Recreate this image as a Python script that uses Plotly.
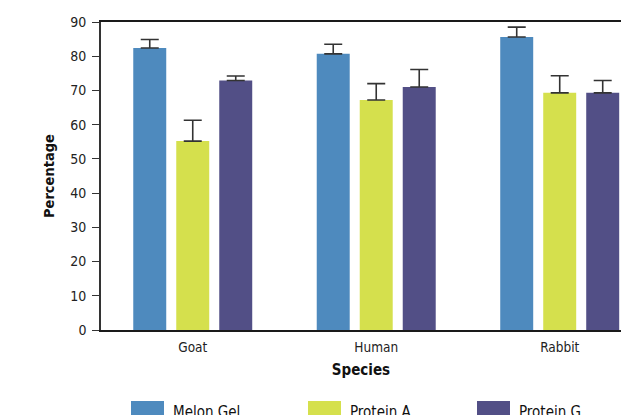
import plotly.graph_objects as go

species = ["Goat", "Human", "Rabbit"]
series_names = ["Melon Gel", "Protein A", "Protein G"]
melon_gel = [82.4, 80.7, 85.6]
protein_a = [55.2, 67.2, 69.3]
protein_g = [72.9, 71.0, 69.3]
melon_gel_err = [2.5, 2.8, 2.9]
protein_a_err = [6.1, 4.8, 5.0]
protein_g_err = [1.3, 5.1, 3.6]
y_ticks = [0, 10, 20, 30, 40, 50, 60, 70, 80, 90]

colors = ["#4E8ABE", "#D5E04D", "#524F86"]
values = [melon_gel, protein_a, protein_g]
errors = [melon_gel_err, protein_a_err, protein_g_err]

FONT = "DejaVu Sans Condensed, Liberation Sans Narrow, Arial Narrow, sans-serif"

fig = go.Figure()
for name, vals, errs, col in zip(series_names, values, errors, colors):
    fig.add_trace(go.Bar(
        x=species, y=vals, name=name, marker=dict(color=col, line=dict(width=0)),
        error_y=dict(type="data", symmetric=False, array=errs, arrayminus=[0] * len(errs),
                     color="#333333", thickness=1.6, width=9),
        showlegend=False,
    ))

# figure fills the whole 621x415 window (body margin removed via post_script)
W, H = 621, 415
L, T, R = 101, 22, 0
B = H - 330
pw, ph = W - L - R, H - T - B

def px(x):
    return (x - L) / pw

def py(y):
    return (H - B - y) / ph

# custom legend (large swatches as in the reference)
leg_x = [131, 308, 477]
shapes = []
annotations = []
for name, col, x0 in zip(series_names, colors, leg_x):
    shapes.append(dict(type="rect", xref="paper", yref="paper",
                       x0=px(x0), x1=px(x0 + 33), y0=py(401), y1=py(430),
                       fillcolor=col, line=dict(width=0)))
    annotations.append(dict(xref="paper", yref="paper", x=px(x0 + 40), y=py(412),
                            xanchor="left", yanchor="middle", text=name, showarrow=False,
                            font=dict(family=FONT, size=15, color="#111111")))

fig.update_layout(
    width=W, height=H,
    margin=dict(l=L, r=R, t=T, b=B, pad=0),
    plot_bgcolor="white", paper_bgcolor="white",
    barmode="group", bargap=0.297, bargroupgap=0.233,
    font=dict(family=FONT, size=13, color="#222222"),
    shapes=shapes, annotations=annotations,
    xaxis=dict(
        range=[-0.5, 2.334], showline=True, linecolor="#1a1a1a", linewidth=1.6,
        mirror=True, ticks="", showgrid=False, tickfont=dict(size=13.5),
        ticklabelstandoff=4,
        title=dict(text="<b>Species</b>", font=dict(size=15, color="#111111"), standoff=10),
    ),
    yaxis=dict(
        range=[0, 90], tickvals=y_ticks, showline=True, linecolor="#333333", linewidth=1.6,
        ticks="outside", ticklen=7, tickwidth=1.2, tickcolor="#333333", showgrid=False,
        zeroline=False, tickfont=dict(size=14), ticklabelstandoff=3,
        title=dict(text="<b>Percentage</b>", font=dict(size=14.5, color="#111111"), standoff=12),
    ),
)

fig.write_html(
    "out.html",
    config={"displayModeBar": False},
    post_script="document.documentElement.style.overflow='hidden';"
                "document.body.style.margin='0';document.body.style.overflow='hidden';",
)
